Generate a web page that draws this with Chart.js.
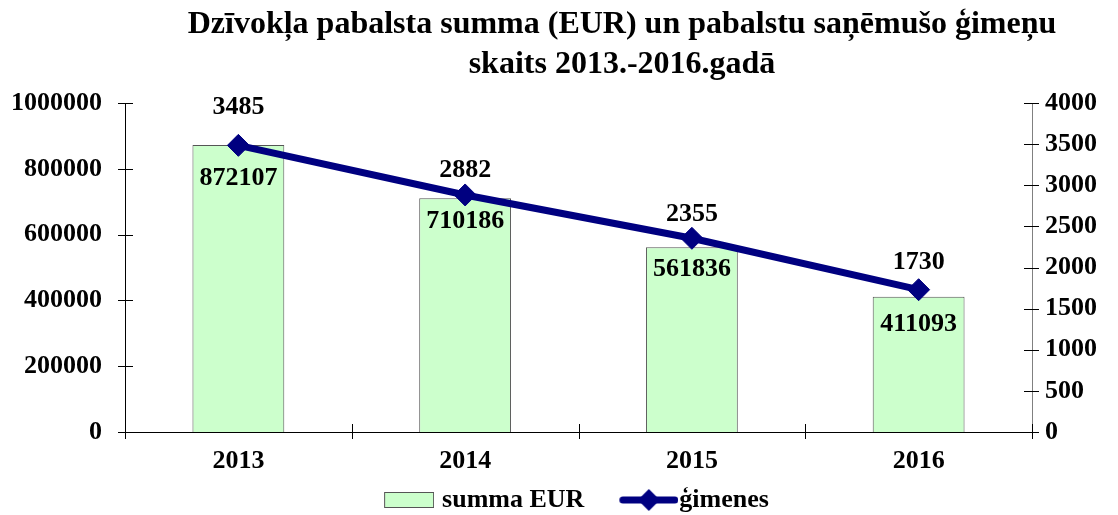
<!DOCTYPE html>
<html>
<head>
<meta charset="utf-8">
<script src="https://cdn.jsdelivr.net/npm/chart.js@4"></script>
<style>
html,body{margin:0;padding:0;background:#fff;}
#wrap{width:1118px;height:515px;position:relative;}
</style>
</head>
<body>
<div id="wrap"><canvas id="c" width="1118" height="515"></canvas></div>
<script>
const categories = ['2013', '2014', '2015', '2016'];
const summaEUR = [872107, 710186, 561836, 411093];
const gimenes = [3485, 2882, 2355, 1730];
const leftTicks = [0, 200000, 400000, 600000, 800000, 1000000];
const rightTicks = [0, 500, 1000, 1500, 2000, 2500, 3000, 3500, 4000];
const titleLines = ['Dzīvokļa pabalsta summa (EUR) un pabalstu saņēmušo ģimeņu', 'skaits 2013.-2016.gadā'];

const FONT = "'Liberation Serif', 'Times New Roman', serif";

function makeRectIcon() {
  const c = document.createElement('canvas');
  c.width = 90; c.height = 16;
  const x = c.getContext('2d');
  x.fillStyle = '#CCFFCC';
  x.fillRect(40.5, 0.5, 49, 15);
  x.strokeStyle = '#555555';
  x.lineWidth = 1;
  x.strokeRect(40.5, 0.5, 49, 15);
  return c;
}
function makeLineIcon() {
  const c = document.createElement('canvas');
  c.width = 104; c.height = 24;
  const x = c.getContext('2d');
  x.strokeStyle = '#000080';
  x.lineWidth = 7;
  x.lineCap = 'round';
  x.beginPath(); x.moveTo(48.5, 12); x.lineTo(100.5, 12); x.stroke();
  x.fillStyle = '#000080';
  x.beginPath(); x.moveTo(74.5, 1); x.lineTo(85.5, 12); x.lineTo(74.5, 23); x.lineTo(63.5, 12); x.closePath(); x.fill();
  return c;
}

const titlePlugin = {
  id: 'customTitle',
  afterDraw(chart) {
    const ctx = chart.ctx;
    ctx.save();
    ctx.font = 'bold 32px ' + FONT;
    ctx.fillStyle = '#000';
    ctx.textAlign = 'center';
    ctx.textBaseline = 'alphabetic';
    ctx.fillText(titleLines[0], 622, 33);
    ctx.fillText(titleLines[1], 622, 73);
    ctx.restore();
  }
};

const tickPlugin = {
  id: 'crossTicks',
  afterDraw(chart) {
    const ctx = chart.ctx;
    const xs = chart.scales.x, yl = chart.scales.y, yr = chart.scales.y2;
    ctx.save();
    ctx.lineWidth = 1;
    ctx.strokeStyle = '#000';
    ctx.beginPath();
    leftTicks.forEach(v => {
      const y = Math.round(yl.getPixelForValue(v)) + 0.5;
      ctx.moveTo(xs.left - 7, y); ctx.lineTo(xs.left + 8, y);
    });
    rightTicks.forEach(v => {
      const y = Math.round(yr.getPixelForValue(v)) + 0.5;
      ctx.moveTo(xs.right - 8, y); ctx.lineTo(xs.right + 7, y);
    });
    const n = categories.length;
    for (let i = 0; i <= n; i++) {
      const x = Math.round(xs.left + (xs.right - xs.left) * i / n) + 0.5;
      ctx.moveTo(x, yl.bottom - 8); ctx.lineTo(x, yl.bottom + 7);
    }
    ctx.stroke();
    ctx.restore();
  }
};

const labelPlugin = {
  id: 'valueLabels',
  afterDatasetsDraw(chart, args, opts) {
    const ctx = chart.ctx;
    ctx.save();
    ctx.font = 'bold 26px ' + FONT;
    ctx.fillStyle = '#000';
    ctx.textAlign = 'center';
    ctx.textBaseline = 'middle';
    const barMeta = chart.getDatasetMeta(0);
    barMeta.data.forEach((el, i) => {
      ctx.fillText(String(summaEUR[i]), el.x, el.y + opts.barOffsets[i]);
    });
    const lineMeta = chart.getDatasetMeta(1);
    lineMeta.data.forEach((el, i) => {
      ctx.fillText(String(gimenes[i]), el.x, el.y - opts.lineOffsets[i]);
    });
    ctx.restore();
  }
};

const rectIcon = makeRectIcon();
const lineIcon = makeLineIcon();

new Chart(document.getElementById('c'), {
  type: 'bar',
  data: {
    labels: categories,
    datasets: [
      {
        type: 'bar',
        label: 'summa EUR',
        data: summaEUR,
        yAxisID: 'y',
        backgroundColor: '#CCFFCC',
        borderColor: '#555555',
        borderWidth: 1,
        categoryPercentage: 1,
        barPercentage: 0.405,
        order: 2
      },
      {
        type: 'line',
        label: 'ģimenes',
        data: gimenes,
        yAxisID: 'y2',
        borderColor: '#000080',
        backgroundColor: '#000080',
        borderWidth: 7,
        pointStyle: 'rectRot',
        pointRadius: 11,
        pointBorderWidth: 1,
        pointBackgroundColor: '#000080',
        pointBorderColor: '#000080',
        fill: false,
        tension: 0,
        order: 1
      }
    ]
  },
  options: {
    responsive: false,
    animation: false,
    devicePixelRatio: 1,
    layout: { padding: { left: 0, right: 0, top: 103, bottom: -8 } },
    plugins: {
      title: { display: false },
      legend: {
        display: true,
        position: 'bottom',
        labels: {
          usePointStyle: true,
          pointStyleWidth: 80,
          boxHeight: 22,
          color: '#000',
          font: { family: FONT, size: 26, weight: 'bold' },
          padding: 2,
          generateLabels(chart) {
            return [
              { text: 'summa EUR', pointStyle: rectIcon, datasetIndex: 0, lineWidth: 0, fillStyle: '#CCFFCC', strokeStyle: '#555', fontColor: '#000' },
              { text: 'ģimenes', pointStyle: lineIcon, datasetIndex: 1, lineWidth: 0, fillStyle: '#000080', strokeStyle: '#000080', fontColor: '#000' }
            ];
          }
        }
      },
      tooltip: { enabled: false },
      valueLabels: { barOffsets: [33, 23, 22, 28], lineOffsets: [38, 25, 24, 27] }
    },
    scales: {
      x: {
        grid: { display: false, drawTicks: false },
        border: { display: true, color: '#000', width: 1 },
        afterFit(scale) { scale.height = 53; },
        ticks: { color: '#000', font: { family: FONT, size: 26, weight: 'bold' }, padding: 14 }
      },
      y: {
        position: 'left',
        min: 0, max: 1000000,
        grid: { display: false, drawTicks: false },
        border: { display: true, color: '#000', width: 1 },
        afterBuildTicks(scale) { scale.ticks = leftTicks.map(v => ({ value: v })); },
        afterFit(scale) { scale.width = 125; },
        ticks: { color: '#000', font: { family: FONT, size: 26, weight: 'bold' }, padding: 23, callback: v => String(v) }
      },
      y2: {
        position: 'right',
        min: 0, max: 4000,
        grid: { display: false, drawTicks: false },
        border: { display: true, color: '#808080', width: 1 },
        afterBuildTicks(scale) { scale.ticks = rightTicks.map(v => ({ value: v })); },
        afterFit(scale) { scale.width = 86; },
        ticks: { color: '#000', font: { family: FONT, size: 26, weight: 'bold' }, padding: 13, callback: v => String(v) }
      }
    }
  },
  plugins: [tickPlugin, labelPlugin, titlePlugin]
});
</script>
</body>
</html>
